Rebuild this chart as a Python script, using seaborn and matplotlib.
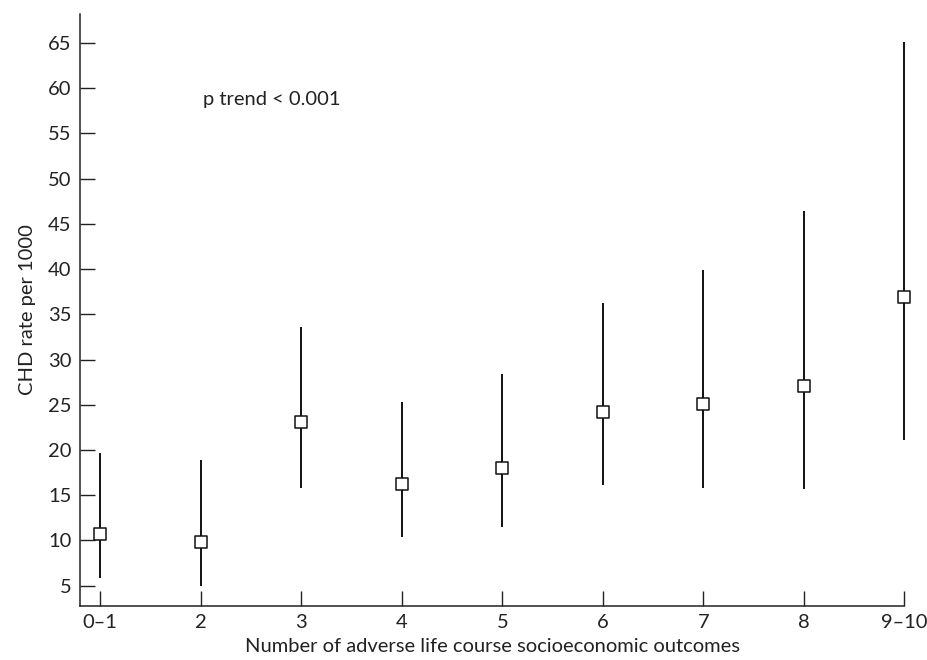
import matplotlib
matplotlib.use("Agg")
import matplotlib.pyplot as plt
import seaborn as sns
import pandas as pd

categories = ["0\u20131", "2", "3", "4", "5", "6", "7", "8", "9\u201310"]
rate = [10.75, 9.8, 23.1, 16.2, 18.0, 24.2, 25.1, 27.1, 36.9]
ci_low = [5.9, 5.0, 15.8, 10.35, 11.45, 16.1, 15.85, 15.65, 21.1]
ci_high = [19.65, 18.85, 33.65, 25.35, 28.4, 36.25, 39.95, 46.4, 65.1]
y_ticks = [5, 10, 15, 20, 25, 30, 35, 40, 45, 50, 55, 60, 65]

df = pd.DataFrame({"group": categories, "rate": rate, "lo": ci_low, "hi": ci_high})

sns.set_style("ticks")
plt.rcParams["font.family"] = ["Lato", "DejaVu Sans"]

fig = plt.figure(figsize=(9.27, 6.6), dpi=100)
ax = fig.add_axes([80 / 927, 54 / 660, (904.3 - 80) / 927, (606 - 14) / 660])

xpos = list(range(len(categories)))
ax.vlines(xpos, df["lo"], df["hi"], color="#111111", linewidth=1.4,
          zorder=2, clip_on=False)
sns.scatterplot(data=df, x="group", y="rate", marker="s", s=78,
                facecolor="white", edgecolor="#111111", linewidth=1.1,
                zorder=3, ax=ax, legend=False, clip_on=False)

ax.set_xlim(-0.202, 8.0)
ax.set_ylim(2.75, 68.2)
ax.set_yticks(y_ticks)
ax.set_xticks(xpos)
ax.set_xticklabels(categories)

for side in ["top", "right"]:
    ax.spines[side].set_visible(False)
for side in ["left", "bottom"]:
    ax.spines[side].set_linewidth(1.1)
    ax.spines[side].set_color("#222222")

fs = 14.5
ax.tick_params(axis="both", direction="in", length=10.5, width=1.0,
               colors="#222222", labelsize=fs, pad=6)

ax.set_xlabel("Number of adverse life course socioeconomic outcomes",
              fontsize=fs, color="#222222", labelpad=5)
ax.set_ylabel("CHD rate per 1000", fontsize=fs, color="#222222", labelpad=9)

ax.text(1.02, 58.7, "p trend < 0.001", fontsize=fs, color="#222222",
        ha="left", va="center")

fig.savefig("out.png", dpi=100)
